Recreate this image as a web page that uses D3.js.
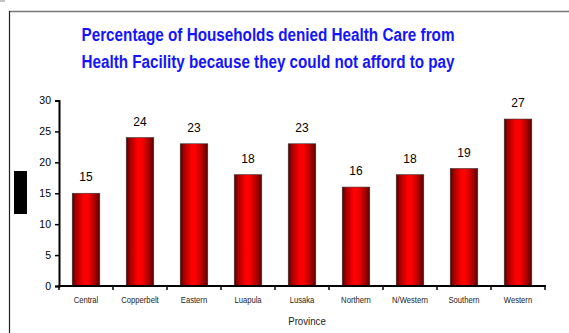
<!DOCTYPE html>
<html>
<head>
<meta charset="utf-8">
<script src="https://cdn.jsdelivr.net/npm/d3@7"></script>
<style>
  html, body { margin: 0; padding: 0; background: #fff; }
  svg { display: block; }
</style>
</head>
<body>
<svg id="chart" width="569" height="333"></svg>
<script>
// Provinces and share of households denied care (%)
const provinces = ["Central", "Copperbelt", "Eastern", "Luapula", "Lusaka", "Northern", "N/Western", "Southern", "Western"];
const percentages = [15, 24, 23, 18, 23, 16, 18, 19, 27];
const yTicks = [0, 5, 10, 15, 20, 25, 30];
const titleLines = ["Percentage of Households denied Health Care from", "Health Facility because they could not afford to pay"];
const xAxisTitle = "Province";

const svg = d3.select("#chart");
const W = 569, H = 333;
const plot = { left: 59, right: 545, top: 100.5, bottom: 286 };
const SANS = "'Liberation Sans', Arial, sans-serif";

// Condense a text element horizontally (narrow face look)
function condense(sel, factor) {
  sel.each(function () {
    const w = this.getComputedTextLength();
    d3.select(this).attr("textLength", w * factor).attr("lengthAdjust", "spacingAndGlyphs");
  });
}

// Outer frame
svg.append("line").attr("x1", 9).attr("x2", W).attr("y1", 11.5).attr("y2", 11.5)
  .attr("stroke", "#777").attr("stroke-width", 1.5);
svg.append("line").attr("x1", 9.5).attr("x2", 9.5).attr("y1", 11).attr("y2", H)
  .attr("stroke", "#222").attr("stroke-width", 1.2);
svg.append("line").attr("x1", 0).attr("x2", 5).attr("y1", 1).attr("y2", 1)
  .attr("stroke", "#888").attr("stroke-width", 1);
// Black marker block on the left
svg.append("rect").attr("x", 14).attr("y", 171).attr("width", 13).attr("height", 43).attr("fill", "#000");

// Title, two centred lines
titleLines.forEach((t, i) => {
  svg.append("text")
    .attr("x", 268).attr("y", 41 + i * 27)
    .attr("text-anchor", "middle")
    .attr("fill", "#1414ff")
    .attr("font-family", SANS)
    .attr("font-weight", "bold")
    .attr("font-size", 18)
    .attr("textLength", 373)
    .attr("lengthAdjust", "spacingAndGlyphs")
    .text(t);
});

// Scales
const x = d3.scaleBand().domain(provinces).range([plot.left, plot.right]).paddingInner(0.49).paddingOuter(0.245);
const y = d3.scaleLinear().domain([0, 30]).range([plot.bottom, plot.top]);

// Bar gradient: dark edges, bright red centre
const defs = svg.append("defs");
const grad = defs.append("linearGradient").attr("id", "barGrad")
  .attr("x1", "0%").attr("x2", "100%").attr("y1", "0%").attr("y2", "0%");
[[0, "#4a0000"], [0.12, "#a00000"], [0.42, "#ff0000"], [0.55, "#ff0000"], [0.85, "#a00000"], [1, "#500000"]]
  .forEach(([o, c]) => grad.append("stop").attr("offset", o).attr("stop-color", c));

svg.append("g").selectAll("rect")
  .data(percentages)
  .join("rect")
  .attr("x", (d, i) => x(provinces[i]))
  .attr("y", d => y(d))
  .attr("width", x.bandwidth())
  .attr("height", d => y(0) - y(d))
  .attr("fill", "url(#barGrad)")
  .attr("stroke", "#333")
  .attr("stroke-width", 0.6);

// Value labels
svg.append("g").selectAll("text")
  .data(percentages)
  .join("text")
  .attr("x", (d, i) => x(provinces[i]) + x.bandwidth() / 2)
  .attr("y", d => y(d) - 12)
  .attr("text-anchor", "middle")
  .attr("font-family", SANS)
  .attr("font-size", 12)
  .attr("fill", "#000")
  .text(d => d);

// Y axis
const yAxis = svg.append("g")
  .attr("transform", `translate(${plot.left},0)`)
  .call(d3.axisLeft(y).tickValues(yTicks).tickSize(4).tickPadding(4));
yAxis.select(".domain").attr("stroke", "#000").attr("stroke-width", 2);
yAxis.selectAll(".tick line").attr("stroke", "#000").attr("stroke-width", 1.5);
yAxis.selectAll(".tick text")
  .attr("font-family", SANS)
  .attr("font-size", 10.5).attr("fill", "#000");

// X axis line and category boundary ticks
const xg = svg.append("g");
xg.append("line").attr("x1", plot.left - 1).attr("x2", plot.right + 1)
  .attr("y1", y(0)).attr("y2", y(0)).attr("stroke", "#000").attr("stroke-width", 2);
const step = x.step();
const boundaries = d3.range(provinces.length + 1).map(i => plot.left + i * step);
xg.selectAll("line.b").data(boundaries).join("line").attr("class", "b")
  .attr("x1", d => d).attr("x2", d => d).attr("y1", y(0)).attr("y2", y(0) + 4)
  .attr("stroke", "#000").attr("stroke-width", 1.5);
xg.selectAll("text").data(provinces).join("text")
  .attr("x", d => x(d) + x.bandwidth() / 2)
  .attr("y", 302.5)
  .attr("text-anchor", "middle")
  .attr("font-family", SANS)
  .attr("font-size", 9)
  .attr("fill", "#222")
  .text(d => d)
  .call(condense, 0.85);

// X axis title
svg.append("text")
  .attr("x", 307).attr("y", 325)
  .attr("text-anchor", "middle")
  .attr("font-family", SANS)
  .attr("font-size", 10.5)
  .attr("fill", "#222")
  .text(xAxisTitle)
  .call(condense, 0.92);
</script>
</body>
</html>
